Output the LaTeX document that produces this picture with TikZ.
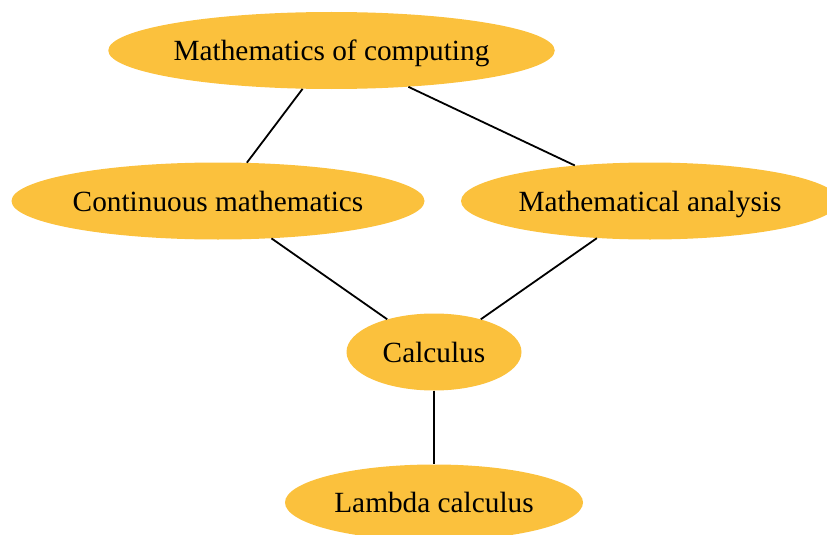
\documentclass[tikz,border=0pt]{standalone}
\usepackage{fontspec}
\setmainfont{Liberation Serif}
\usetikzlibrary{shapes.geometric}
\definecolor{nodefill}{HTML}{FBC13D}
\begin{document}
\begin{tikzpicture}[x=1pt,y=-1pt,
  topic/.style={ellipse, fill=nodefill, draw=none, inner sep=0pt,
    font=\fontsize{29.3}{35}\selectfont, text=black,
    text height=20pt, text depth=0pt},
  link/.style={draw=black, line width=1.8pt}]
\useasboundingbox (0,0) rectangle (827,535);
\node[topic, minimum width=445, minimum height=77] (moc) at (331.5,50.5) {Mathematics of computing};
\node[topic, minimum width=413, minimum height=77] (cm) at (218,201) {Continuous mathematics};
\node[topic, minimum width=378, minimum height=77] (ma) at (650,201) {Mathematical analysis};
\node[topic, minimum width=175, minimum height=77] (calc) at (434,352) {Calculus};
\node[topic, minimum width=298, minimum height=76] (lc) at (434,502.5) {Lambda calculus};
\draw[link] (moc) -- (cm);
\draw[link] (moc) -- (ma);
\draw[link] (cm) -- (calc);
\draw[link] (ma) -- (calc);
\draw[link] (calc) -- (lc);
\end{tikzpicture}
\end{document}
